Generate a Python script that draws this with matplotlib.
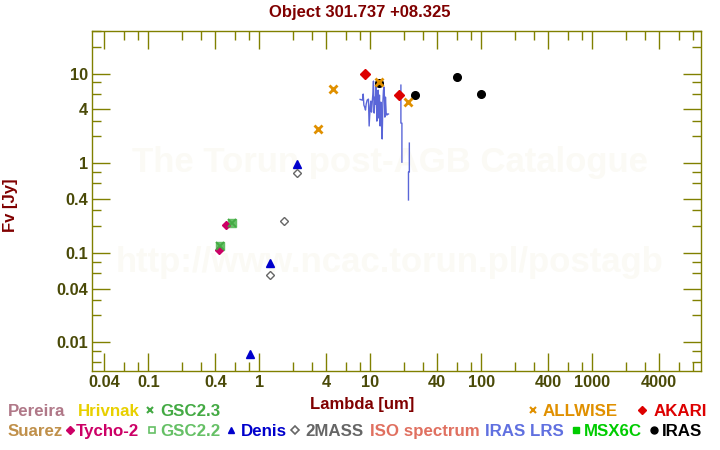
import numpy as np
import matplotlib.pyplot as plt
from matplotlib.lines import Line2D
from matplotlib.ticker import FixedLocator, FixedFormatter, NullFormatter

plt.rcParams['font.family'] = ['Liberation Sans', 'DejaVu Sans']
plt.rcParams['font.weight'] = 'bold'

title = 'Object 301.737 +08.325'

# photometry: wavelength [um], flux [Jy]
tycho_wave = [0.43, 0.50]
tycho_flux = [0.108, 0.205]
gsc22_wave = [0.44, 0.56]
gsc22_flux = [0.12, 0.214]
gsc23_wave = [0.44, 0.56]
gsc23_flux = [0.12, 0.214]
denis_wave = [0.82, 1.25, 2.16]
denis_flux = [0.0074, 0.077, 0.97]
twomass_wave = [1.25, 1.65, 2.16]
twomass_flux = [0.056, 0.226, 0.785]
allwise_wave = [3.4, 4.6, 12, 22]
allwise_flux = [2.4, 6.7, 8.0, 4.8]
akari_wave = [9, 18]
akari_flux = [9.9, 5.8]
iras_wave = [12, 25, 60, 100]
iras_flux = [7.8, 5.8, 9.1, 5.9]

# IRAS LRS spectrum (nan = gap)
lrs_wave = [8.07, 8.25, 8.47, 8.60, 8.72, 8.87, 9.02, 9.15, 9.34, 9.59,
            9.73, 9.94, 10.08, 10.21, 10.36, 10.51, 10.64, 10.80, 10.96, 11.09,
            11.26, 11.42, 11.56, 11.73, 11.91, 12.05, 12.23, 12.41, 12.56, 12.75,
            12.93, 13.09, 13.29, 13.48, 13.65, 13.85, 14.06, 14.23, 14.52, np.nan,
            18.8, 18.8, 19.2, 19.2, np.nan, 22.4, 22.4, 22.0, 22.0]
lrs_flux = [5.17, 5.12, 5.08, 5.93, 4.47, 4.24, 3.93, 4.58, 5.08, 5.21,
            2.61, 4.35, 4.95, 3.73, 4.70, 5.93, 8.27, 3.64, 5.48, 4.58,
            7.66, 2.96, 5.08, 6.56, 3.20, 5.77, 2.61, 4.82, 3.64, 1.87,
            4.70, 6.56, 7.09, 3.28, 5.48, 3.64, 3.45, 3.55, 3.55, np.nan,
            7.46, 2.81, 2.81, 1.03, np.nan, 1.68, 0.80, 0.80, 0.39]

x_major = [0.04, 0.1, 0.4, 1, 4, 10, 40, 100, 400, 1000, 4000]
x_labels = ['0.04', '0.1', '0.4', '1', '4', '10', '40', '100', '400', '1000', '4000']
y_major = [0.01, 0.04, 0.1, 0.4, 1, 4, 10]
y_labels = ['0.01', '0.04', '0.1', '0.4', '1', '4', '10']

OLIVE = '#808000'
TICK_TEXT = '#4a4a08'
DARK_RED = '#800000'

fig = plt.figure(figsize=(7.2, 4.5), dpi=100)
W, H = 720, 450
left, right, top, bottom = 92, 701, 31, 371
ax = fig.add_axes([left / W, 1 - bottom / H, (right - left) / W, (bottom - top) / H])
ax.set_xscale('log')
ax.set_yscale('log')
ax.set_xlim(0.031, 9500)
ax.set_ylim(0.0048, 30)

# watermark
ax.text(0.489, 0.612, 'The Torun post-AGB Catalogue', transform=ax.transAxes,
        ha='center', va='center', fontsize=25, color='#fbfaf5', zorder=0)
ax.text(0.489, 0.32, 'http://www.ncac.torun.pl/postagb', transform=ax.transAxes,
        ha='center', va='center', fontsize=25, color='#fbfaf5', zorder=0)

ax.plot(lrs_wave, lrs_flux, color='#5a66d8', lw=1.0, zorder=2)
ax.plot(gsc22_wave, gsc22_flux, 's', ms=5.5, mfc='#66c066', mec='#66c066', zorder=3)
ax.plot(gsc23_wave, gsc23_flux, 'x', ms=5.5, mew=1.3, color='#44aa44', zorder=4)
ax.plot(tycho_wave, tycho_flux, 'D', ms=4.0, color='#cc0066', zorder=3)
ax.plot(denis_wave, denis_flux, '^', ms=5.5, color='#0000cc', zorder=3)
ax.plot(twomass_wave, twomass_flux, 'D', ms=4.0, mfc='white', mec='#666666', mew=1.0, zorder=3)
ax.plot(allwise_wave, allwise_flux, 'x', ms=6, mew=2.0, color='#e09000', zorder=5)
ax.plot(akari_wave, akari_flux, 'D', ms=5.2, color='#dd0000', zorder=4)
ax.plot(iras_wave, iras_flux, 'o', ms=5.5, color='black', zorder=4)

for side in ['left', 'right', 'top', 'bottom']:
    ax.spines[side].set_color(OLIVE)
    ax.spines[side].set_linewidth(1.0)

ax.xaxis.set_major_locator(FixedLocator(x_major))
ax.xaxis.set_major_formatter(FixedFormatter(x_labels))
ax.xaxis.set_minor_locator(FixedLocator([m * 10.0 ** e for e in range(-2, 4) for m in (2, 3, 6, 8)]))
ax.xaxis.set_minor_formatter(NullFormatter())
ax.yaxis.set_major_locator(FixedLocator(y_major))
ax.yaxis.set_major_formatter(FixedFormatter(y_labels))
ax.yaxis.set_minor_locator(FixedLocator([m * 10.0 ** e for e in range(-3, 2) for m in (2, 3, 6, 8)]))
ax.yaxis.set_minor_formatter(NullFormatter())
ax.tick_params(which='both', direction='in', top=True, right=True, color=OLIVE, width=1.0)
ax.tick_params(which='major', length=13, labelsize=11.8, labelcolor=TICK_TEXT, pad=3)
ax.tick_params(which='minor', length=6.5)
for lab in ax.get_xticklabels() + ax.get_yticklabels():
    lab.set_fontweight('bold')

fig.text(0.5, 1 - 13 / H, title, ha='center', va='center', fontsize=12, color=DARK_RED)
fig.text(362 / W, 1 - 409 / H, 'Lambda [um]', ha='center', va='baseline', fontsize=12, color=DARK_RED)
fig.text(10 / W, 1 - 205 / H, 'Fv [Jy]', ha='center', va='center', rotation=90,
         fontsize=12, color=DARK_RED)

# legend: (label, colour, text x, baseline y, marker, marker x, marker style)
legend_items = [
    ('Pereira', '#b07888', 8, 416, None, 0, None),
    ('Hrivnak', '#e8d000', 78, 416, None, 0, None),
    ('GSC2.3', '#44aa44', 160, 416, 'x', 150, None),
    ('ALLWISE', '#e09000', 543, 416, 'x', 533, None),
    ('AKARI', '#dd0000', 654, 416, 'D', 642, None),
    ('Suarez', '#c0904a', 8, 436, None, 0, None),
    ('Tycho-2', '#cc0066', 76, 436, 'D', 70, None),
    ('GSC2.2', '#66c066', 160, 436, 's', 151.5, 'open'),
    ('Denis', '#0000cc', 241, 436, '^', 231, None),
    ('2MASS', '#666666', 305, 436, 'D', 295, 'open'),
    ('ISO spectrum', '#e07060', 370, 436, None, 0, None),
    ('IRAS LRS', '#6070e0', 485, 436, None, 0, None),
    ('MSX6C', '#00cc00', 584, 436, 's', 575.5, None),
    ('IRAS', 'black', 662, 436, 'o', 654, None),
]
for label, color, tx, ty, marker, mx, style in legend_items:
    fig.text(tx / W, 1 - ty / H, label, ha='left', va='baseline', fontsize=12.2, color=color)
    if marker is None:
        continue
    my = 1 - (ty - 6) / H
    if marker == 'x':
        m = Line2D([mx / W], [my], marker='x', ms=5, mew=1.5, color=color, transform=fig.transFigure)
    elif style == 'open':
        m = Line2D([mx / W], [my], marker=marker, ms=4.2 if marker == 's' else 3.6, mfc='white',
                   mec=color, mew=1.2, transform=fig.transFigure)
    else:
        m = Line2D([mx / W], [my], marker=marker, ms=5 if marker != 'D' else 3.8, color=color,
                   transform=fig.transFigure)
    fig.add_artist(m)

fig.savefig('out.png', dpi=100)
